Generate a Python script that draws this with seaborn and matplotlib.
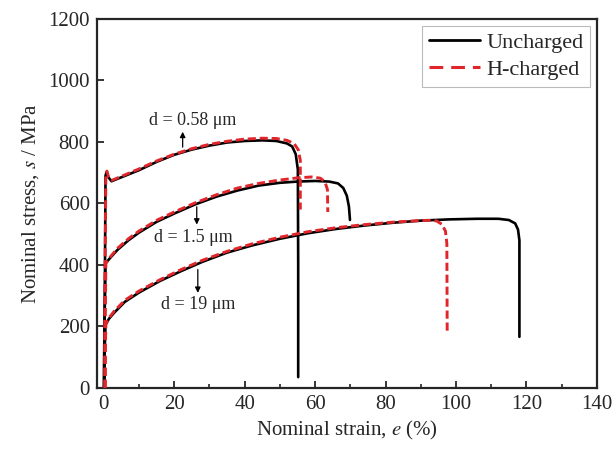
import pandas as pd
import seaborn as sns
import matplotlib
matplotlib.use("Agg")
import matplotlib.pyplot as plt
from matplotlib.lines import Line2D
from matplotlib.ticker import MultipleLocator

# values
unch_058_strain = [0.0, 0.3, 0.5, 0.8, 1.3, 2.2, 5, 10, 15, 20, 25, 30, 35, 40, 45, 49, 52, 53.5, 54.5, 55.1, 55.2, 55.2]
unch_058_stress = [0, 300, 690, 702, 685, 672, 685, 708, 735, 758, 775, 788, 798, 803, 805, 803, 795, 785, 760, 710, 400, 35]
hch_058_strain = [0.3, 0.3, 0.6, 0.9, 1.4, 2.3, 5, 10, 15, 20, 25, 30, 35, 40, 45, 49, 52, 54, 55.2, 55.8, 55.8]
hch_058_stress = [0, 300, 695, 705, 685, 675, 688, 712, 738, 760, 778, 792, 802, 809, 812, 811, 805, 795, 775, 740, 580]

unch_15_strain = [0.2, 0.2, 0.5, 2, 4, 7, 10, 15, 20, 26, 32, 38, 44, 50, 55, 60, 64, 66.5, 68, 69, 69.6, 69.9]
unch_15_stress = [0, 200, 405, 425, 450, 480, 505, 540, 567, 597, 622, 642, 658, 667, 671, 673, 671, 665, 650, 625, 590, 546]
hch_15_strain = [0.4, 0.4, 0.6, 2, 4, 7, 10, 15, 20, 26, 32, 38, 44, 50, 55, 59, 61.5, 62.8, 63.5, 63.6]
hch_15_stress = [0, 200, 405, 428, 455, 485, 510, 545, 572, 602, 628, 650, 665, 676, 683, 686, 682, 670, 645, 572]

unch_19_strain = [0.2, 0.2, 0.5, 1.5, 3, 6, 10, 16, 22, 28, 35, 42, 50, 58, 66, 74, 82, 90, 98, 106, 112, 115, 116.8, 117.6, 118, 118]
unch_19_stress = [0, 100, 205, 225, 245, 280, 310, 348, 380, 410, 440, 463, 485, 503, 517, 528, 537, 544, 548, 550, 550, 546, 535, 515, 480, 166]
hch_19_strain = [0.4, 0.4, 0.6, 1.5, 3, 6, 10, 16, 22, 28, 35, 42, 50, 58, 66, 74, 82, 88, 92, 94.5, 96, 97, 97.4, 97.5]
hch_19_stress = [0, 100, 208, 228, 250, 285, 315, 352, 385, 415, 444, 468, 490, 508, 521, 531, 539, 543, 545, 543, 532, 510, 470, 179]

conditions = ["Uncharged", "H-charged"]
grain_labels = ["d = 0.58 μm", "d = 1.5 μm", "d = 19 μm"]

RED = "#e0262b"


def build_frame():
    curves = [
        ("0.58", "Uncharged", unch_058_strain, unch_058_stress),
        ("0.58", "H-charged", hch_058_strain, hch_058_stress),
        ("1.5", "Uncharged", unch_15_strain, unch_15_stress),
        ("1.5", "H-charged", hch_15_strain, hch_15_stress),
        ("19", "Uncharged", unch_19_strain, unch_19_stress),
        ("19", "H-charged", hch_19_strain, hch_19_stress),
    ]
    frames = []
    for grain, cond, x, y in curves:
        df = pd.DataFrame({"strain": x, "stress": y})
        df["grain"] = grain
        df["condition"] = cond
        frames.append(df)
    return pd.concat(frames, ignore_index=True)


def main():
    sns.set_style("ticks")
    plt.rcParams["font.family"] = ["Liberation Serif", "DejaVu Serif"]
    plt.rcParams["mathtext.fontset"] = "stix"
    plt.rcParams["xtick.direction"] = "in"
    plt.rcParams["ytick.direction"] = "in"

    data = build_frame()

    fig, ax = plt.subplots(figsize=(6.16, 4.5), dpi=100)
    fig.subplots_adjust(left=0.157, right=0.969, top=0.958, bottom=0.138)

    sns.lineplot(
        data=data, x="strain", y="stress", hue="condition", style="condition",
        units="grain", estimator=None, sort=False, ax=ax, legend=False,
        palette={"Uncharged": "black", "H-charged": RED},
        dashes={"Uncharged": "", "H-charged": (2.8, 1.3)},
        hue_order=conditions, style_order=conditions,
    )
    for line in ax.get_lines():
        if line.get_color() in ("black", "k"):
            line.set_linewidth(1.9)
            line.set_zorder(2)
        else:
            line.set_linewidth(2.1)
            line.set_zorder(3)

    ax.set_xlim(-2, 140)
    ax.set_ylim(0, 1200)
    ax.xaxis.set_major_locator(MultipleLocator(20))
    ax.xaxis.set_minor_locator(MultipleLocator(10))
    ax.yaxis.set_major_locator(MultipleLocator(200))
    ax.tick_params(axis="both", which="major", labelsize=15, length=5, width=1.3, pad=5)
    ax.tick_params(axis="x", which="minor", length=3, width=1.2)
    for side in ["top", "right", "bottom", "left"]:
        ax.spines[side].set_visible(True)
        ax.spines[side].set_linewidth(1.6)

    ax.set_xlabel("Nominal strain, $e$ (%)", fontsize=15, labelpad=4)
    ax.set_ylabel("Nominal stress, $s$ / MPa", fontsize=15, labelpad=5)

    # grain size labels with arrows
    arrow = dict(arrowstyle="-|>", color="black", lw=0.9, mutation_scale=8)
    ax.annotate("", xy=(22.4, 842), xytext=(22.4, 774), arrowprops=arrow)
    ax.text(25.3, 868, grain_labels[0], fontsize=13, ha="center", va="center")
    ax.annotate("", xy=(26.4, 522), xytext=(26.4, 598), arrowprops=arrow)
    ax.text(25.3, 488, grain_labels[1], fontsize=13, ha="center", va="center")
    ax.annotate("", xy=(26.7, 300), xytext=(26.7, 394), arrowprops=arrow)
    ax.text(26.7, 272, grain_labels[2], fontsize=13, ha="center", va="center")

    handles = [
        Line2D([], [], color="black", lw=2.0),
        Line2D([], [], color=RED, lw=2.2, dashes=(4.5, 2.6)),
    ]
    leg = ax.legend(handles, conditions, loc="upper right", fontsize=16,
                    frameon=True, fancybox=False, edgecolor="#aaaaaa",
                    handlelength=2.3, handletextpad=0.3, borderaxespad=0.3,
                    borderpad=0.3, labelspacing=0.3)
    leg.get_frame().set_linewidth(0.8)

    fig.savefig("out.png", dpi=100)


if __name__ == "__main__":
    main()
